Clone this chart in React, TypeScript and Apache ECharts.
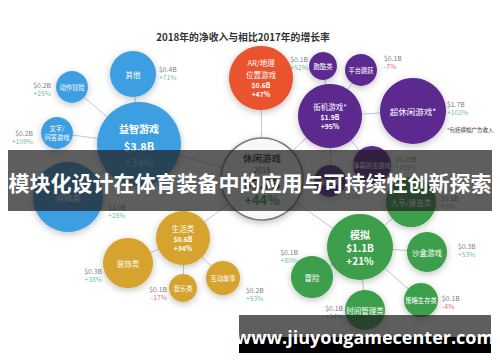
import React, { useEffect, useRef } from "react";
import * as echarts from "echarts";

// ---------- text ----------
const titleText = "2018年的净收入与相比2017年的增长率";
const noteText = "*包括横幅广告收入";
const bannerText = "模块化设计在体育装备中的应用与可持续性创新探索";
const siteText = "www.jiuyougamecenter.com";
const yearLabel = "2018";

// ---------- data ----------
const genres = [
  "休闲游戏", "益智游戏", "其他", "动作冒险", "文字/\n问答游戏", "消除类",
  "AR/地理\n位置游戏", "街机游戏*", "跑酷类", "平台跳跃", "超休闲游戏*", "弹幕射击游戏", "射击类",
  "生活类", "装饰类", "音乐类", "互动故事",
  "模拟", "冒险", "沙盒游戏", "策略生存类", "时间管理类", "大亨/建造类",
];
const groups = [
  "center", "blue", "blue", "blue", "blue", "blue",
  "orange", "purple", "purple", "purple", "purple", "purple", "purple",
  "yellow", "yellow", "yellow", "yellow",
  "green", "green", "green", "green", "green", "green",
];
const revenueB = [
  9.7, 3.8, 0.4, 0.2, 0.2, 3.0,
  0.6, 1.9, 0.1, 0.1, 1.7, 0.03, 0.2,
  0.6, 0.3, 0.1, 0.2,
  1.1, 0.1, 0.3, 0.1, 0.1, 0.5,
];
const growthPct = [
  44, 34, 71, 25, 109, 28,
  47, 95, 52, -7, 102, 101, 22,
  34, 38, -17, 53,
  21, 80, 53, -4, 34, 3,
];
const linkFrom = [0, 0, 0, 0, 0, 1, 1, 1, 1, 7, 7, 7, 7, 7, 13, 13, 13, 17, 17, 17, 17, 17];
const linkTo = [1, 6, 7, 13, 17, 2, 3, 4, 5, 8, 9, 10, 11, 12, 14, 15, 16, 18, 19, 20, 21, 22];

// ---------- layout (bubble placement, in chart units) ----------
const nodeX = [262, 139, 133, 72, 57, 68, 261, 330, 323, 361, 413, 372, 330, 183, 128, 183, 223, 360, 312, 427, 421, 365, 411];
const nodeY = [179, 144, 74, 87, 133, 197, 78, 116, 66, 70, 111, 165, 181, 238, 263, 288, 278, 247, 277, 252, 300, 310, 202];
const nodeR = [41, 42, 23, 16, 16, 35, 32, 32, 14, 16, 33, 19, 16, 27, 25, 14, 17, 33, 21, 20, 17, 20, 25];
// outside annotations: [x, y, align] ; null = values shown inside bubble
const annPos: (null | [number, number, string])[] = [
  null, null, [159, 73, "left"], [51, 89, "right"], [33, 137, "right"], [108, 211, "left"],
  null, null, [308, 63, "right"], [384, 62, "left"], [447, 108, "left"], [395, 163, "left"], [343, 192, "left"],
  null, [102, 275, "right"], [167, 293, "right"], [246, 294, "left"],
  null, [298, 256, "right"], [458, 250, "left"], [442, 302, "left"], [343, 312, "right"], [441, 202, "left"],
];

const FONT = "'Noto Sans CJK SC', 'Noto Sans', sans-serif";
const colors: Record<string, string> = {
  center: "#f7f7f7",
  blue: "#3e9fe2",
  orange: "#e9532d",
  purple: "#5b2b8f",
  yellow: "#d6a42d",
  green: "#3d9f4c",
};
const POS = "#3db07e";
const NEG = "#d8464f";

const fmtRev = (v: number) => "$" + (v < 0.1 ? v.toFixed(2) : v.toFixed(1)) + "B";
const fmtGrowth = (g: number) => (g >= 0 ? "+" : "") + g + "%";

export default function App() {
  const ref = useRef<HTMLDivElement>(null);
  useEffect(() => {
    document.body.style.margin = "0";
    const chart = echarts.init(ref.current!, null, { renderer: "svg" });

    const nodes = genres.map((name, i) => {
      const g = groups[i];
      const r = nodeR[i];
      const inside = annPos[i] === null;
      let formatter: string;
      let rich: any = {};
      if (g === "center") {
        formatter = `{n|${name}}\n{y|${yearLabel}}\n{v|${fmtRev(revenueB[i])}}\n{g|${fmtGrowth(growthPct[i])}}`;
        rich = {
          n: { fontSize: 9.5, fontWeight: "bold", color: "#333", fontFamily: FONT, lineHeight: 13 },
          y: { fontSize: 7.5, color: "#555", fontFamily: FONT, lineHeight: 11 },
          v: { fontSize: 13, fontWeight: "bold", color: "#333", fontFamily: FONT, lineHeight: 16 },
          g: { fontSize: 13, fontWeight: "bold", color: "#3a9a5a", fontFamily: FONT, lineHeight: 16 },
        };
      } else if (inside) {
        const big = r >= 40;
        const nameSize = big ? 10 : name === "模拟" ? 10 : 7.5;
        const valSize = big ? 11 : name === "模拟" ? 10 : 6.8;
        formatter = `{n|${name}}\n{v|${fmtRev(revenueB[i])}}\n{g|${fmtGrowth(growthPct[i])}}`;
        rich = {
          n: { fontSize: nameSize, fontWeight: big || name === "模拟" ? "bold" : "normal", color: "#fff", fontFamily: FONT, lineHeight: nameSize + (big ? 8 : 4) },
          v: { fontSize: valSize, fontWeight: "bold", color: "#fff", fontFamily: FONT, lineHeight: valSize + (big ? 6 : 2) },
          g: { fontSize: valSize, fontWeight: big ? "normal" : "bold", color: big ? "#9fd2f5" : "#fff", fontFamily: FONT, lineHeight: valSize + 3 },
        };
      } else {
        formatter = `{n|${name}}`;
        rich = {
          n: { fontSize: r >= 30 ? 8.5 : r >= 20 ? 7.5 : 6.3, color: "#fff", fontFamily: FONT, lineHeight: r >= 30 ? 11 : 9, align: "center" },
        };
      }
      return {
        name: String(i),
        value: [nodeX[i], nodeY[i]],
        symbolSize: r * 2,
        itemStyle: {
          color: colors[g],
          borderColor: g === "center" ? "#7a7a7a" : colors[g],
          borderWidth: g === "center" ? 1.5 : 0,
          shadowBlur: 7,
          shadowColor: "rgba(0,0,0,0.25)",
          shadowOffsetY: 2,
        },
        label: { show: true, position: "inside", formatter, rich },
      };
    });

    const links = linkFrom.map((s, k) => ({ source: String(s), target: String(linkTo[k]) }));

    const annData = annPos
      .map((p, i) => (p ? { i, p } : null))
      .filter((d): d is { i: number; p: [number, number, string] } => d !== null)
      .map(({ i, p }) => ({
        value: [p[0], p[1]],
        label: {
          align: p[2],
          formatter: `{a|${fmtRev(revenueB[i])}}\n{${growthPct[i] >= 0 ? "p" : "m"}|${fmtGrowth(growthPct[i])}}`,
        },
      }));

    const annRich = {
      a: { fontSize: 6.8, color: "#555", fontFamily: FONT, lineHeight: 8 },
      p: { fontSize: 6.8, color: POS, fontFamily: FONT, lineHeight: 8 },
      m: { fontSize: 6.8, color: NEG, fontFamily: FONT, lineHeight: 8 },
    };

    chart.setOption({
      animation: false,
      backgroundColor: "#ffffff",
      grid: { left: 0, right: 0, top: 0, bottom: 0 },
      xAxis: { type: "value", min: 0, max: 500, show: false },
      yAxis: { type: "value", min: 0, max: 362, inverse: true, show: false },
      series: [
        {
          type: "graph",
          coordinateSystem: "cartesian2d",
          silent: true,
          data: nodes,
          links,
          lineStyle: { color: "#bfc8d4", width: 1, opacity: 1, curveness: 0 },
          z: 2,
        },
        {
          type: "scatter",
          silent: true,
          symbolSize: 0,
          data: annData,
          label: { show: true, position: "inside", verticalAlign: "middle", rich: annRich },
          z: 3,
        },
      ],
      graphic: [
        {
          type: "text",
          x: 243,
          y: 37,
          z: 10,
          style: {
            text: titleText,
            fill: "#333",
            font: `bold 9.8px ${FONT}`,
            align: "center",
            verticalAlign: "middle",
          },
        },
        {
          type: "text",
          x: 447,
          y: 130,
          z: 10,
          style: { text: noteText, fill: "#333", font: `5.5px ${FONT}`, align: "left", verticalAlign: "middle" },
        },
        {
          type: "rect",
          z: 100,
          shape: { x: 8, y: 150, width: 484, height: 61 },
          style: { fill: "rgba(32,32,32,0.72)" },
        },
        {
          type: "text",
          x: 250,
          y: 182,
          z: 101,
          style: {
            text: bannerText,
            fill: "#ffffff",
            font: `bold 21px ${FONT}`,
            align: "center",
            verticalAlign: "middle",
          },
        },
        {
          type: "rect",
          z: 100,
          shape: { x: 239, y: 315, width: 252, height: 22 },
          style: { fill: "rgba(32,32,32,0.72)" },
        },
        {
          type: "rect",
          z: 100,
          shape: { x: 239, y: 337, width: 252, height: 16 },
          style: { fill: "#000000" },
        },
        {
          type: "text",
          x: 365,
          y: 337,
          z: 101,
          style: {
            text: siteText,
            fill: "#ffffff",
            font: `bold 18px 'Open Sans', 'DejaVu Sans', sans-serif`,
            align: "center",
            verticalAlign: "middle",
          },
        },
      ],
    });
    return () => chart.dispose();
  }, []);
  return <div ref={ref} style={{ width: 500, height: 362 }} />;
}
